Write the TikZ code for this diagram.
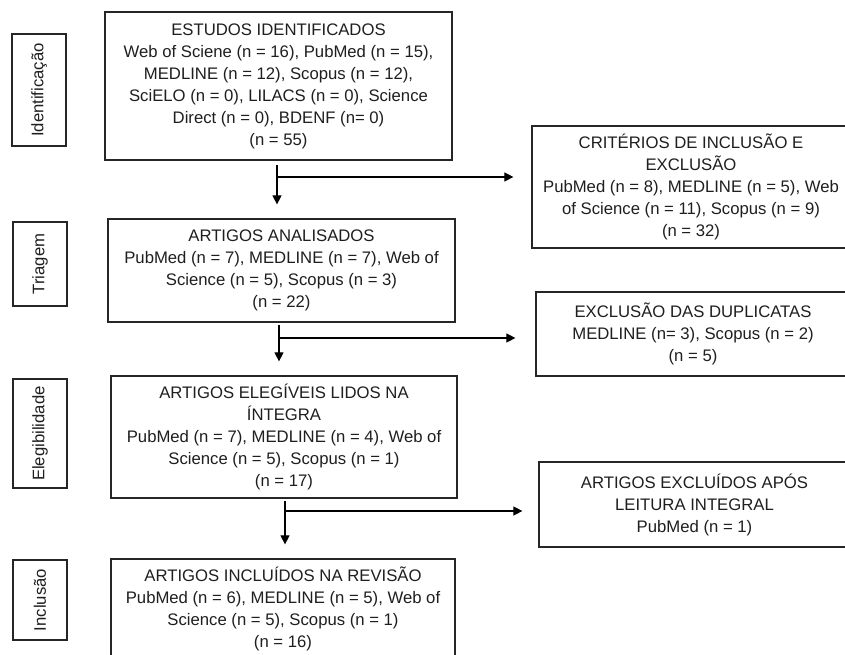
\documentclass[tikz,border=0pt]{standalone}
\usepackage{fontspec}
\setmainfont{Liberation Sans}
\usetikzlibrary{arrows.meta}
\begin{document}
\begin{tikzpicture}[x=1pt,y=1pt,
  every node/.style={font=\fontsize{16.7}{22}\selectfont, text=black!88},
  box/.style={draw=black!85, line width=1.2pt, align=center, inner sep=0pt, rectangle},
  stage/.style={draw=black!85, line width=1.2pt, inner sep=0pt, rotate=90, rectangle},
  flow/.style={draw=black, line width=1.1pt, -{Triangle[length=9pt,width=9pt]}}]
\useasboundingbox (0,0) rectangle (845,655);
\fill[white] (0,0) rectangle (845,655);

% stage labels (minimum width = visual height after rotation)
\node[stage, minimum width=112, minimum height=54] (L1) at (39,565) {Identificação};
\node[stage, minimum width=84, minimum height=54] (L2) at (40,391) {Triagem};
\node[stage, minimum width=109, minimum height=54] (L3) at (40,221.5) {Elegibilidade};
\node[stage, minimum width=80, minimum height=54] (L4) at (40,55) {Inclusão};

% main boxes
\node[box, minimum width=347, minimum height=148] (B1) at (278.5,569) {ESTUDOS IDENTIFICADOS\\Web of Sciene (n = 16), PubMed (n = 15),\\MEDLINE (n = 12), Scopus (n = 12),\\SciELO (n = 0), LILACS (n = 0), Science\\Direct (n = 0), BDENF (n= 0)\\(n = 55)};
\node[box, minimum width=347, minimum height=103] (B2) at (281.5,384.5) {ARTIGOS ANALISADOS\\PubMed (n = 7), MEDLINE (n = 7), Web of\\Science (n = 5), Scopus (n = 3)\\(n = 22)};
\node[box, minimum width=346, minimum height=122] (B3) at (284,218) {ARTIGOS ELEGÍVEIS LIDOS NA\\ÍNTEGRA\\PubMed (n = 7), MEDLINE (n = 4), Web of\\Science (n = 5), Scopus (n = 1)\\(n = 17)};
\node[box, minimum width=344, minimum height=99] (B4) at (283,46.5) {ARTIGOS INCLUÍDOS NA REVISÃO\\PubMed (n = 6), MEDLINE (n = 5), Web of\\Science (n = 5), Scopus (n = 1)\\(n = 16)};

% exclusion boxes
\node[box, minimum width=318, minimum height=122] (R1) at (691,468) {CRITÉRIOS DE INCLUSÃO E\\EXCLUSÃO\\PubMed (n = 8), MEDLINE (n = 5), Web\\of Science (n = 11), Scopus (n = 9)\\(n = 32)};
\node[box, minimum width=314, minimum height=84] (R2) at (693,321) {EXCLUSÃO DAS DUPLICATAS\\MEDLINE (n= 3), Scopus (n = 2)\\(n = 5)};
\node[box, minimum width=311, minimum height=85] (R3) at (694.5,150.5) {ARTIGOS EXCLUÍDOS APÓS\\LEITURA INTEGRAL\\PubMed (n = 1)};

% branch points
\coordinate (J1) at (277,478);
\coordinate (J2) at (279,317);
\coordinate (J3) at (285,144);

% connectors
\draw[flow, shorten <=4pt, shorten >=14pt] (B1.south -| J1) -- (B2.north -| J1);
\draw[flow, shorten >=18pt] (J1) -- (J1 -| R1.west);
\draw[flow, shorten <=2pt, shorten >=14pt] (B2.south -| J2) -- (B3.north -| J2);
\draw[flow, shorten >=20pt] (J2) -- (J2 -| R2.west);
\draw[flow, shorten <=2pt, shorten >=14pt] (B3.south -| J3) -- (B4.north -| J3);
\draw[flow, shorten >=16pt] (J3) -- (J3 -| R3.west);
\end{tikzpicture}
\end{document}
